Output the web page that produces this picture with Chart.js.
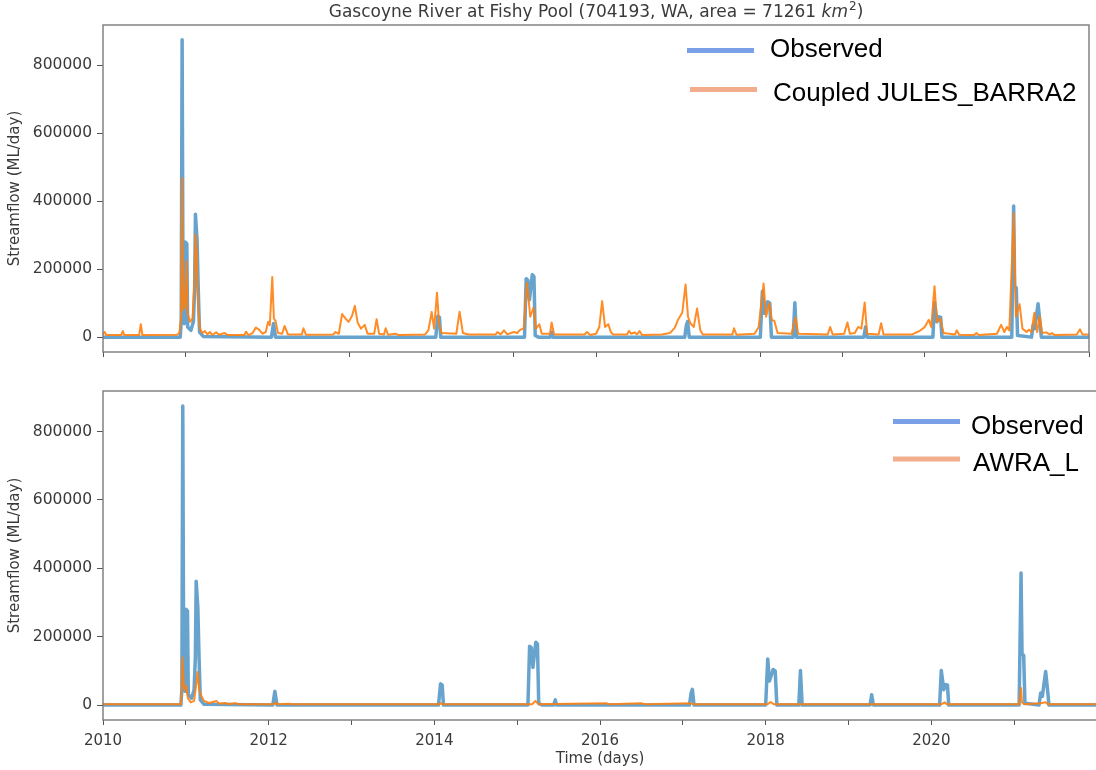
<!DOCTYPE html>
<html>
<head>
<meta charset="utf-8">
<title>Gascoyne River at Fishy Pool</title>
<script src="https://cdn.jsdelivr.net/npm/chart.js@4.4.1/dist/chart.umd.min.js"></script>
<style>
  html, body { margin: 0; padding: 0; background: #ffffff; width: 1096px; height: 770px; overflow: hidden; }
  canvas { position: absolute; left: 0; }
  #topPanel { top: 0; }
  #bottomPanel { top: 372px; }
</style>
</head>
<body>
<canvas id="topPanel" width="1096" height="380" style="width:1096px;height:380px"></canvas>
<canvas id="bottomPanel" width="1104" height="398" style="width:1104px;height:398px"></canvas>
<script>
// ---- Daily streamflow (ML/day), key points by decimal year ----
const obsYears = [
  2010.00, 2010.50, 2010.94, 2010.952, 2010.963, 2010.975, 2010.99, 2011.00, 2011.02, 2011.03,
  2011.07, 2011.10, 2011.115, 2011.125, 2011.145, 2011.16, 2011.175, 2011.22,
  2012.05, 2012.075, 2012.10,
  2014.05, 2014.075, 2014.095, 2014.11,
  2015.13, 2015.15, 2015.17, 2015.19, 2015.225, 2015.245, 2015.26, 2015.30,
  2015.44, 2015.46, 2015.475,
  2017.08, 2017.10, 2017.115, 2017.135,
  2018.00, 2018.025, 2018.045, 2018.09, 2018.115, 2018.135,
  2018.40, 2018.42, 2018.44,
  2019.26, 2019.28, 2019.30,
  2020.10, 2020.12, 2020.15, 2020.175, 2020.195, 2020.21,
  2021.06, 2021.083, 2021.095, 2021.115, 2021.13,
  2021.30, 2021.32, 2021.34, 2021.38, 2021.405, 2021.42,
  2022.00
];
const obsFlow = [
  0, 0, 0, 45000, 875000, 50000, 40000, 280000, 275000, 30000,
  20000, 45000, 140000, 362000, 285000, 135000, 15000, 2000,
  0, 40000, 0,
  0, 62000, 58000, 0,
  0, 172000, 168000, 110000, 184000, 178000, 5000, 0,
  0, 15000, 0,
  0, 35000, 46000, 0,
  0, 135000, 70000, 104000, 100000, 0,
  0, 101000, 0,
  0, 30000, 0,
  0, 101000, 45000, 60000, 58000, 0,
  0, 386000, 150000, 145000, 5000,
  0, 35000, 25000, 98000, 40000, 0,
  0
];

const julesYears = [
  2010.00, 2010.02, 2010.04, 2010.22, 2010.24, 2010.26, 2010.44, 2010.46, 2010.48, 2010.90,
  2010.93, 2010.95, 2010.963, 2010.975, 2010.995, 2011.015, 2011.03, 2011.06, 2011.09, 2011.11,
  2011.125, 2011.14, 2011.16, 2011.18, 2011.21, 2011.24, 2011.27, 2011.30, 2011.33, 2011.38,
  2011.41, 2011.48, 2011.52, 2011.72, 2011.74, 2011.77, 2011.82, 2011.86, 2011.90, 2011.94,
  2011.98, 2012.01, 2012.03, 2012.06, 2012.08, 2012.10, 2012.13, 2012.18, 2012.21, 2012.25,
  2012.42, 2012.44, 2012.47, 2012.80, 2012.83, 2012.87, 2012.91, 2012.95, 2012.99, 2013.03,
  2013.065, 2013.10, 2013.14, 2013.185, 2013.22, 2013.30, 2013.33, 2013.36, 2013.42, 2013.44,
  2013.47, 2013.56, 2013.60, 2013.92, 2013.96, 2014.00, 2014.03, 2014.065, 2014.09, 2014.12,
  2014.30, 2014.34, 2014.38, 2014.45, 2014.78, 2014.80, 2014.84, 2014.88, 2014.92, 2015.00,
  2015.04, 2015.08, 2015.12, 2015.16, 2015.20, 2015.24, 2015.27, 2015.31, 2015.34, 2015.44,
  2015.46, 2015.49, 2015.86, 2015.89, 2015.93, 2016.00, 2016.04, 2016.075, 2016.11, 2016.15,
  2016.18, 2016.21, 2016.38, 2016.40, 2016.43, 2016.47, 2016.50, 2016.53, 2016.56, 2016.80,
  2016.85, 2016.90, 2016.96, 2017.00, 2017.05, 2017.09, 2017.12, 2017.15, 2017.19, 2017.23,
  2017.27, 2017.30, 2017.66, 2017.68, 2017.71, 2017.93, 2017.98, 2018.04, 2018.07, 2018.11,
  2018.14, 2018.17, 2018.21, 2018.38, 2018.43, 2018.46, 2018.82, 2018.85, 2018.88, 2019.02,
  2019.06, 2019.09, 2019.15, 2019.19, 2019.23, 2019.27, 2019.30, 2019.44, 2019.47, 2019.50,
  2019.85, 2019.95, 2020.00, 2020.05, 2020.08, 2020.12, 2020.15, 2020.19, 2020.23, 2020.37,
  2020.39, 2020.42, 2020.60, 2020.63, 2020.66, 2020.88, 2020.93, 2020.97, 2021.00, 2021.03,
  2021.085, 2021.11, 2021.155, 2021.19, 2021.24, 2021.27, 2021.30, 2021.335, 2021.37, 2021.40,
  2021.43, 2021.48, 2021.52, 2021.55, 2021.58, 2021.85, 2021.89, 2021.92, 2022.00
];
const julesFlow = [
  8000, 15000, 6000, 6000, 18000, 6000, 6000, 38000, 6000, 7000,
  12000, 60000, 468000, 80000, 90000, 223000, 70000, 45000, 55000, 150000,
  302000, 250000, 80000, 25000, 12000, 18000, 8000, 15000, 7000, 14000,
  7000, 12000, 6000, 6000, 16000, 6000, 12000, 28000, 22000, 10000,
  15000, 45000, 35000, 177000, 55000, 48000, 12000, 10000, 33000, 8000,
  8000, 26000, 7000, 8000, 15000, 10000, 68000, 55000, 45000, 62000,
  92000, 42000, 25000, 36000, 10000, 10000, 53000, 10000, 8000, 26000,
  7000, 10000, 6000, 8000, 20000, 74000, 25000, 131000, 40000, 12000,
  10000, 75000, 12000, 8000, 8000, 15000, 8000, 20000, 8000, 15000,
  12000, 22000, 25000, 160000, 60000, 87000, 25000, 38000, 10000, 10000,
  43000, 8000, 8000, 15000, 6000, 10000, 30000, 106000, 30000, 38000,
  15000, 8000, 8000, 18000, 10000, 14000, 8000, 18000, 6000, 8000,
  10000, 12000, 28000, 52000, 72000, 155000, 60000, 40000, 30000, 84000,
  20000, 8000, 8000, 26000, 7000, 10000, 30000, 158000, 60000, 100000,
  50000, 48000, 12000, 10000, 58000, 10000, 8000, 30000, 8000, 10000,
  43000, 10000, 12000, 30000, 25000, 102000, 10000, 8000, 41000, 8000,
  8000, 20000, 30000, 51000, 30000, 150000, 45000, 55000, 12000, 8000,
  20000, 7000, 6000, 12000, 6000, 10000, 36000, 15000, 30000, 20000,
  365000, 60000, 97000, 25000, 15000, 22000, 15000, 72000, 15000, 62000,
  12000, 14000, 8000, 12000, 6000, 8000, 23000, 8000, 8000
];

const awraYears = [
  2010.00, 2010.94, 2010.95, 2010.958, 2010.975, 2010.99, 2011.005, 2011.025, 2011.06, 2011.10,
  2011.13, 2011.14, 2011.16, 2011.18, 2011.22, 2011.28, 2011.37, 2011.40, 2011.47, 2011.52,
  2011.60, 2011.65, 2012.06, 2012.08, 2012.11, 2012.25, 2012.30, 2014.06, 2014.08, 2014.10,
  2015.18, 2015.22, 2015.26, 2016.08, 2016.12, 2016.50, 2016.55, 2017.10, 2017.13, 2018.02,
  2018.06, 2018.10, 2020.12, 2020.16, 2020.19, 2021.06, 2021.083, 2021.095, 2021.12, 2021.32,
  2021.38, 2021.41, 2022.00
];
const awraFlow = [
  2000, 2000, 30000, 139000, 60000, 45000, 56000, 20000, 8000, 12000,
  70000, 97000, 50000, 30000, 12000, 6000, 12000, 4000, 6000, 3000,
  5000, 2000, 2000, 7000, 2000, 4000, 2000, 2000, 6000, 2000,
  2000, 12000, 2000, 5000, 2000, 5000, 2000, 5000, 2000, 2000,
  9000, 2000, 2000, 8000, 2000, 2000, 50000, 8000, 2000, 5000,
  8000, 2000, 2000
];

// ---- Axis ticks ----
const xTickYears  = [2010, 2011, 2012, 2013, 2014, 2015, 2016, 2017, 2018, 2019, 2020, 2021, 2022];
const xTickLabels = ['2010', '', '2012', '', '2014', '', '2016', '', '2018', '', '2020', '', ''];
const yTickValues = [0, 200000, 400000, 600000, 800000];
const yTickLabels = ['0', '200000', '400000', '600000', '800000'];

// ---- Text ----
const titleText = 'Gascoyne River at Fishy Pool (704193, WA, area = 71261 ';
const yAxisTitle = 'Streamflow (ML/day)';
const xAxisTitle = 'Time (days)';

// ---- Styling ----
const OBS_COLOR = 'rgba(31,119,180,0.68)';
const MOD_COLOR = 'rgba(255,127,14,0.9)';
const LEGEND_BLUE = '#7aa0e8';
const LEGEND_ORANGE = '#f2ae8c';
const FRAME_COLOR = '#7a7a7a';
const TEXT_COLOR = '#3a3a3a';
const AXIS_FONT = { family: 'DejaVu Sans', size: 15 };

function toPoints(xs, ys) {
  return xs.map((x, i) => ({ x: x, y: ys[i] }));
}

// Full box around each plot area
const framePlugin = {
  id: 'frameBox',
  afterDraw(chart) {
    const { ctx, chartArea: a } = chart;
    ctx.save();
    ctx.strokeStyle = FRAME_COLOR;
    ctx.lineWidth = 1.4;
    ctx.strokeRect(a.left, a.top, a.right - a.left, a.bottom - a.top);
    ctx.restore();
  }
};

// Line-sample legend placed inside the plot
const lineLegendPlugin = {
  id: 'lineLegend',
  afterDraw(chart, args, opts) {
    if (!opts.entries) return;
    const ctx = chart.ctx;
    ctx.save();
    opts.entries.forEach((e) => {
      const ds = chart.data.datasets[e.dataset];
      ctx.strokeStyle = e.color;
      ctx.lineWidth = 5;
      ctx.lineCap = 'butt';
      ctx.beginPath();
      ctx.moveTo(e.x1, e.y);
      ctx.lineTo(e.x2, e.y);
      ctx.stroke();
      ctx.fillStyle = '#000000';
      ctx.font = '26px "Liberation Sans", Arial, sans-serif';
      ctx.textBaseline = 'alphabetic';
      ctx.textAlign = 'left';
      ctx.fillText(ds.label, e.tx, e.ty);
    });
    ctx.restore();
  }
};

// Figure title with italic unit and superscript
const titlePlugin = {
  id: 'figTitle',
  afterDraw(chart, args, opts) {
    if (!opts.show) return;
    const { ctx, chartArea: a } = chart;
    ctx.save();
    ctx.fillStyle = TEXT_COLOR;
    ctx.textBaseline = 'alphabetic';
    ctx.textAlign = 'left';
    const fNorm = '17px "DejaVu Sans"';
    const fItal = 'italic 17px "DejaVu Sans"';
    const fSup = '12px "DejaVu Sans"';
    ctx.font = fNorm; const w1 = ctx.measureText(titleText).width;
    ctx.font = fItal; const w2 = ctx.measureText('km').width;
    ctx.font = fSup;  const w3 = ctx.measureText('2').width;
    ctx.font = fNorm; const w4 = ctx.measureText(')').width;
    const total = w1 + w2 + w3 + w4 + 1;
    let x = (a.left + a.right) / 2 - total / 2;
    const y = opts.baseline;
    ctx.font = fNorm; ctx.fillText(titleText, x, y); x += w1;
    ctx.font = fItal; ctx.fillText('km', x, y); x += w2 + 1;
    ctx.font = fSup;  ctx.fillText('2', x, y - 7); x += w3;
    ctx.font = fNorm; ctx.fillText(')', x, y);
    ctx.restore();
  }
};

function makeScales(showXLabels) {
  return {
    x: {
      type: 'linear',
      min: 2010,
      max: 2022,
      afterBuildTicks(scale) { scale.ticks = xTickYears.map(v => ({ value: v })); },
      afterFit(scale) { scale.height = showXLabels ? 50 : 28; },
      ticks: {
        autoSkip: false,
        maxRotation: 0,
        padding: 7,
        color: TEXT_COLOR,
        font: AXIS_FONT,
        callback(v, i) { return showXLabels ? xTickLabels[i] : ''; }
      },
      grid: { display: true, drawOnChartArea: false, drawTicks: true, tickLength: 5, tickColor: '#555', tickWidth: 1 },
      border: { display: false },
      title: {
        display: showXLabels,
        text: xAxisTitle,
        color: TEXT_COLOR,
        font: AXIS_FONT,
        padding: { top: 0, bottom: 2 }
      }
    },
    y: {
      type: 'linear',
      min: -43750,
      max: 918750,
      afterBuildTicks(scale) { scale.ticks = yTickValues.map(v => ({ value: v })); },
      afterFit(scale) { scale.width = 103; },
      ticks: {
        padding: 5,
        color: TEXT_COLOR,
        font: { family: 'DejaVu Sans', size: 15.5 },
        callback(v, i) { return yTickLabels[i]; }
      },
      grid: { display: true, drawOnChartArea: false, drawTicks: true, tickLength: 6, tickColor: '#555', tickWidth: 1 },
      border: { display: false },
      title: {
        display: true,
        text: yAxisTitle,
        color: TEXT_COLOR,
        font: AXIS_FONT,
        padding: { top: 6, bottom: 0 }
      }
    }
  };
}

function makeDatasets(modelLabel, modelYears, modelFlow) {
  return [
    {
      label: 'Observed',
      data: toPoints(obsYears, obsFlow),
      borderColor: OBS_COLOR,
      borderWidth: 3.5,
      borderJoinStyle: 'round',
      pointRadius: 0,
      tension: 0,
      order: 2
    },
    {
      label: modelLabel,
      data: toPoints(modelYears, modelFlow),
      borderColor: MOD_COLOR,
      borderWidth: 2,
      borderJoinStyle: 'round',
      pointRadius: 0,
      tension: 0,
      order: 1
    }
  ];
}

const common = {
  responsive: false,
  animation: false,
  devicePixelRatio: 1,
  events: []
};

new Chart(document.getElementById('topPanel'), {
  type: 'line',
  data: { datasets: makeDatasets('Coupled JULES_BARRA2', julesYears, julesFlow) },
  options: Object.assign({}, common, {
    layout: { padding: { top: 25, right: 6, left: 0, bottom: 0 } },
    scales: makeScales(false),
    plugins: {
      legend: { display: false },
      tooltip: { enabled: false },
      figTitle: { show: true, baseline: 17 },
      lineLegend: {
        entries: [
          { dataset: 0, color: LEGEND_BLUE, x1: 687, x2: 754, y: 50.5, tx: 770, ty: 57 },
          { dataset: 1, color: LEGEND_ORANGE, x1: 690, x2: 757, y: 89.5, tx: 773, ty: 101 }
        ]
      }
    }
  }),
  plugins: [framePlugin, titlePlugin, lineLegendPlugin]
});

new Chart(document.getElementById('bottomPanel'), {
  type: 'line',
  data: { datasets: makeDatasets('AWRA_L', awraYears, awraFlow) },
  options: Object.assign({}, common, {
    layout: { padding: { top: 19, right: 4, left: 0, bottom: 0 } },
    scales: makeScales(true),
    plugins: {
      legend: { display: false },
      tooltip: { enabled: false },
      figTitle: { show: false },
      lineLegend: {
        entries: [
          { dataset: 0, color: LEGEND_BLUE, x1: 893, x2: 960, y: 49.5, tx: 971, ty: 62 },
          { dataset: 1, color: LEGEND_ORANGE, x1: 893, x2: 960, y: 87, tx: 973, ty: 99 }
        ]
      }
    }
  }),
  plugins: [framePlugin, titlePlugin, lineLegendPlugin]
});
</script>
</body>
</html>
